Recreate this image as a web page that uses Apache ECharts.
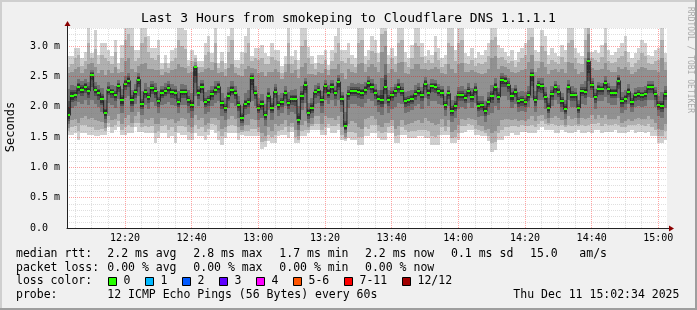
<!DOCTYPE html>
<html><head><meta charset="utf-8">
<script src="https://cdn.jsdelivr.net/npm/echarts@6/dist/echarts.min.js"></script>
<style>html,body{margin:0;padding:0;background:#f0f0f0}#c{width:697px;height:310px}</style>
</head><body><div id="c"></div>
<script>
// ---- time axis (minutes since midnight) ----
const startMinute = 722.6;   // 12:02:36
const endMinute = 902.6;     // 15:02:36
const timeTicks = [740, 760, 780, 800, 820, 840, 860, 880, 900];
const gridMinutes = [725,730,735,740,745,750,755,760,765,770,775,780,785,790,795,800,805,810,815,820,825,830,835,840,845,850,855,860,865,870,875,880,885,890,895,900];
const yMax = 3.3;

// ---- median rtt per minute (ms) ----
const median = [
1.86,2.18,2.19,2.32,2.28,2.33,2.26,2.53,2.27,2.23,
2.13,1.89,2.28,2.24,2.19,2.34,2.11,2.38,2.43,2.11,
2.24,2.45,2.05,2.24,2.16,2.31,2.26,2.09,2.23,2.26,
2.31,2.24,2.23,2.08,2.24,2.24,2.11,2.03,2.66,2.23,
2.33,2.08,2.11,2.21,2.28,2.33,2.06,1.98,2.18,2.28,
2.22,2.03,1.81,2.05,2.08,2.48,2.22,1.98,2.05,1.86,
2.18,1.98,2.25,2.03,2.08,2.22,2.06,2.13,2.13,1.79,
2.18,2.36,1.89,1.98,2.24,2.27,2.11,2.34,2.23,2.33,
2.22,2.41,2.13,1.68,2.21,2.26,2.26,2.25,2.23,2.28,
2.39,2.33,2.23,2.13,2.11,2.33,2.11,2.19,2.26,2.33,
2.26,2.09,2.11,2.13,2.21,2.26,2.19,2.38,2.23,2.34,
2.33,2.26,2.23,2.03,2.22,1.93,2.02,2.19,2.19,2.15,
2.26,2.16,2.28,2.02,2.03,1.93,2.08,2.18,2.32,2.16,
2.44,2.43,2.36,2.18,2.25,2.09,2.11,2.08,2.19,2.52,
2.11,2.36,2.34,2.16,1.98,2.21,2.32,2.25,2.09,1.96,
2.32,2.19,2.19,1.98,2.26,2.25,2.75,2.36,2.16,2.29,
2.29,2.39,2.29,2.23,2.23,2.43,2.09,2.13,2.25,2.08,
2.19,2.21,2.19,2.21,2.32,2.32,2.21,2.03,2.01,2.21];

// ---- smoke: sorted ping pairs per minute (ms), band1 = outermost ----
const band1Hi = [
2.83,2.83,2.97,2.97,2.80,2.91,3.40,2.89,3.27,2.86,
3.05,3.05,2.94,2.83,3.11,2.72,3.02,3.40,3.40,3.40,
2.94,2.94,3.40,3.40,3.16,2.97,2.97,3.11,2.72,2.86,
2.72,2.94,2.97,3.40,3.40,3.27,2.78,2.94,2.86,2.75,
2.75,3.05,3.16,2.89,3.40,2.72,2.91,2.72,3.16,3.40,
2.78,2.78,2.91,3.16,3.40,2.83,2.97,2.97,3.02,2.89,
2.83,3.05,2.94,2.94,2.67,2.83,3.40,2.83,2.94,2.78,
3.40,3.40,2.99,2.83,2.72,2.86,2.86,2.94,2.69,2.94,
3.16,3.40,2.94,2.94,3.05,2.86,2.80,3.40,3.40,2.83,
2.94,3.16,3.11,2.89,3.40,3.40,2.86,2.97,2.83,3.40,
3.40,2.91,2.80,3.02,3.40,3.40,3.05,2.83,2.94,2.86,
3.16,2.97,2.80,2.86,3.40,3.40,2.94,3.40,3.40,2.89,
2.83,2.97,2.80,2.91,2.86,2.94,3.05,3.40,3.40,3.02,
2.97,2.91,2.83,2.94,2.78,2.91,2.97,3.05,3.40,3.40,
2.94,2.91,3.27,3.16,2.86,2.97,2.89,2.83,3.02,2.94,
3.40,3.40,2.97,2.89,2.83,3.40,3.40,2.91,2.94,2.89,
3.02,3.40,2.94,2.86,2.91,2.97,3.05,3.16,2.91,2.80,
2.89,2.97,3.11,3.05,2.86,2.83,2.94,2.97,3.40,2.89];
const band1Lo = [
1.54,1.54,1.57,1.45,1.57,1.57,1.54,1.54,1.51,1.51,
1.54,1.54,1.67,1.57,1.62,1.67,1.54,1.54,1.57,1.57,
1.67,1.59,1.59,1.57,1.57,1.57,1.40,1.48,1.57,1.57,
1.48,1.51,1.40,1.57,1.54,1.54,1.45,1.45,1.57,1.51,
1.51,1.45,1.54,1.62,1.57,1.45,1.37,1.48,1.57,1.57,
1.57,1.45,1.54,1.51,1.51,1.51,1.51,1.51,1.31,1.34,
1.43,1.40,1.40,1.51,1.54,1.54,1.48,1.59,1.40,1.40,
1.51,1.51,1.57,1.62,1.62,1.62,1.54,1.54,1.65,1.57,
1.57,1.62,1.45,1.43,1.48,1.45,1.45,1.37,1.37,1.51,
1.51,1.57,1.57,1.48,1.45,1.45,1.57,1.57,1.40,1.40,
1.54,1.54,1.48,1.48,1.48,1.51,1.51,1.48,1.48,1.37,
1.37,1.37,1.54,1.54,1.54,1.40,1.40,1.45,1.57,1.59,
1.62,1.62,1.54,1.54,1.51,1.51,1.43,1.26,1.29,1.45,
1.45,1.51,1.51,1.57,1.54,1.54,1.59,1.59,1.57,1.57,
1.57,1.62,1.67,1.62,1.62,1.62,1.57,1.57,1.62,1.59,
1.57,1.57,1.59,1.62,1.57,1.57,1.59,1.57,1.62,1.62,
1.57,1.59,1.59,1.59,1.62,1.57,1.57,1.57,1.59,1.62,
1.57,1.59,1.59,1.57,1.59,1.51,1.51,1.40,1.40,1.45];
const band2Hi = [
2.66,2.70,2.80,2.85,2.68,2.75,3.05,2.80,2.95,2.70,
2.85,2.80,2.75,2.70,2.90,2.62,2.80,3.10,3.20,3.00,
2.75,2.80,3.05,3.15,2.90,2.80,2.78,2.85,2.62,2.72,
2.64,2.76,2.80,3.10,3.00,2.95,2.68,2.75,2.80,2.66,
2.66,2.85,2.90,2.74,3.05,2.64,2.76,2.62,2.90,3.10,
2.66,2.64,2.70,2.88,3.05,2.75,2.80,2.78,2.80,2.70,
2.70,2.82,2.78,2.76,2.56,2.70,3.05,2.70,2.78,2.62,
3.00,3.10,2.80,2.70,2.62,2.72,2.70,2.78,2.60,2.76,
2.88,3.05,2.76,2.72,2.80,2.70,2.66,3.05,3.10,2.70,
2.78,2.92,2.88,2.74,3.20,3.25,2.70,2.80,2.70,3.05,
3.10,2.74,2.66,2.80,3.05,3.00,2.82,2.72,2.78,2.72,
2.90,2.78,2.66,2.70,3.05,3.00,2.76,3.05,3.10,2.72,
2.70,2.78,2.68,2.72,2.70,2.74,2.84,3.10,3.15,2.80,
2.82,2.78,2.72,2.76,2.66,2.74,2.80,2.86,3.10,3.15,
2.76,2.76,3.00,2.92,2.70,2.78,2.74,2.70,2.82,2.74,
3.05,3.10,2.80,2.72,2.70,3.10,3.30,2.80,2.78,2.74,
2.82,3.05,2.76,2.72,2.74,2.80,2.84,2.92,2.74,2.66,
2.72,2.78,2.88,2.84,2.72,2.70,2.76,2.78,3.10,2.74];
const band2Lo = [
1.60,1.66,1.68,1.60,1.70,1.70,1.66,1.66,1.62,1.62,
1.64,1.60,1.74,1.66,1.70,1.76,1.62,1.66,1.70,1.66,
1.74,1.74,1.66,1.68,1.66,1.68,1.56,1.60,1.68,1.70,
1.62,1.66,1.58,1.68,1.68,1.66,1.58,1.56,1.70,1.64,
1.66,1.58,1.64,1.72,1.70,1.60,1.52,1.58,1.68,1.70,
1.68,1.56,1.58,1.60,1.60,1.64,1.64,1.58,1.42,1.44,
1.54,1.50,1.54,1.60,1.62,1.66,1.58,1.66,1.50,1.46,
1.60,1.62,1.62,1.68,1.72,1.72,1.62,1.66,1.72,1.68,
1.68,1.72,1.54,1.47,1.58,1.58,1.56,1.50,1.50,1.66,
1.64,1.70,1.70,1.60,1.56,1.58,1.66,1.68,1.52,1.54,
1.66,1.62,1.58,1.60,1.60,1.62,1.62,1.62,1.60,1.52,
1.50,1.54,1.66,1.60,1.66,1.48,1.50,1.56,1.68,1.68,
1.72,1.70,1.64,1.62,1.60,1.56,1.52,1.40,1.42,1.56,
1.62,1.66,1.66,1.68,1.68,1.66,1.70,1.68,1.68,1.70,
1.66,1.72,1.76,1.72,1.70,1.72,1.70,1.68,1.70,1.66,
1.70,1.68,1.70,1.68,1.70,1.68,1.70,1.72,1.72,1.74,
1.68,1.72,1.70,1.70,1.72,1.70,1.66,1.66,1.70,1.70,
1.70,1.72,1.70,1.68,1.72,1.66,1.62,1.52,1.52,1.60];
const band3Hi = [
2.55,2.58,2.62,2.66,2.55,2.62,2.70,2.72,2.66,2.56,
2.60,2.52,2.60,2.56,2.66,2.55,2.58,2.75,2.80,2.62,
2.58,2.68,2.70,2.72,2.62,2.62,2.60,2.60,2.52,2.58,
2.56,2.60,2.62,2.70,2.66,2.64,2.56,2.58,2.74,2.56,
2.58,2.62,2.64,2.60,2.72,2.56,2.58,2.50,2.64,2.70,
2.56,2.52,2.50,2.62,2.68,2.64,2.62,2.56,2.58,2.50,
2.58,2.58,2.62,2.58,2.46,2.58,2.70,2.56,2.60,2.48,
2.66,2.72,2.54,2.54,2.52,2.58,2.56,2.62,2.52,2.62,
2.62,2.70,2.56,2.46,2.62,2.58,2.56,2.70,2.72,2.58,
2.66,2.70,2.66,2.58,2.90,3.00,2.56,2.62,2.58,2.72,
2.74,2.56,2.54,2.62,2.70,2.70,2.62,2.62,2.60,2.62,
2.66,2.62,2.56,2.54,2.70,2.62,2.56,2.70,2.72,2.58,
2.58,2.60,2.58,2.56,2.54,2.56,2.62,2.80,2.84,2.62,
2.68,2.66,2.62,2.58,2.56,2.58,2.60,2.62,2.74,2.86,
2.58,2.64,2.74,2.66,2.54,2.60,2.62,2.58,2.62,2.56,
2.74,2.72,2.62,2.54,2.58,2.80,3.20,2.64,2.60,2.60,
2.62,2.72,2.60,2.58,2.58,2.66,2.62,2.66,2.60,2.54,
2.58,2.62,2.66,2.64,2.60,2.60,2.60,2.58,2.80,2.60];
const band3Lo = [
1.65,1.78,1.80,1.74,1.82,1.84,1.80,1.82,1.78,1.76,
1.75,1.65,1.84,1.78,1.80,1.88,1.72,1.82,1.86,1.74,
1.84,1.92,1.74,1.80,1.78,1.82,1.72,1.72,1.82,1.82,
1.78,1.80,1.74,1.76,1.82,1.80,1.70,1.66,1.86,1.78,
1.82,1.70,1.74,1.82,1.82,1.78,1.64,1.66,1.80,1.84,
1.80,1.66,1.62,1.70,1.70,1.80,1.78,1.66,1.56,1.52,
1.66,1.60,1.72,1.68,1.72,1.78,1.68,1.74,1.62,1.52,
1.70,1.76,1.66,1.72,1.84,1.84,1.72,1.84,1.82,1.82,
1.78,1.84,1.66,1.50,1.72,1.76,1.74,1.66,1.64,1.80,
1.82,1.84,1.80,1.70,1.66,1.74,1.74,1.78,1.64,1.68,
1.78,1.70,1.72,1.74,1.76,1.78,1.74,1.82,1.76,1.74,
1.70,1.72,1.80,1.68,1.78,1.58,1.62,1.70,1.80,1.78,
1.82,1.80,1.78,1.70,1.68,1.62,1.64,1.56,1.60,1.68,
1.78,1.80,1.80,1.78,1.80,1.76,1.78,1.76,1.80,1.84,
1.76,1.84,1.86,1.80,1.74,1.82,1.84,1.82,1.78,1.70,
1.84,1.80,1.82,1.72,1.82,1.80,1.82,1.86,1.80,1.86,
1.82,1.86,1.80,1.80,1.80,1.84,1.74,1.76,1.80,1.76,
1.80,1.82,1.80,1.80,1.84,1.80,1.74,1.64,1.62,1.72];
const band4Hi = [
2.30,2.36,2.35,2.46,2.42,2.46,2.41,2.61,2.41,2.36,
2.31,2.11,2.41,2.36,2.34,2.45,2.29,2.51,2.56,2.28,
2.37,2.55,2.26,2.39,2.32,2.43,2.39,2.26,2.35,2.39,
2.42,2.37,2.35,2.26,2.38,2.36,2.27,2.22,2.69,2.35,
2.44,2.24,2.28,2.35,2.42,2.43,2.22,2.15,2.32,2.42,
2.35,2.18,2.01,2.22,2.27,2.56,2.35,2.15,2.21,2.05,
2.31,2.15,2.38,2.19,2.22,2.35,2.24,2.28,2.29,2.02,
2.34,2.48,2.06,2.14,2.36,2.40,2.26,2.45,2.36,2.44,
2.35,2.52,2.25,1.92,2.35,2.39,2.38,2.39,2.37,2.41,
2.50,2.46,2.37,2.27,2.48,2.70,2.28,2.33,2.38,2.46,
2.40,2.24,2.26,2.28,2.36,2.40,2.33,2.49,2.37,2.46,
2.44,2.38,2.35,2.18,2.35,2.12,2.18,2.33,2.34,2.29,
2.39,2.31,2.40,2.18,2.18,2.10,2.24,2.36,2.48,2.31,
2.55,2.53,2.47,2.31,2.36,2.24,2.26,2.24,2.34,2.62,
2.26,2.47,2.47,2.32,2.14,2.34,2.43,2.36,2.23,2.11,
2.44,2.34,2.31,2.12,2.38,2.42,2.91,2.48,2.29,2.41,
2.40,2.50,2.40,2.35,2.35,2.53,2.24,2.28,2.37,2.22,
2.31,2.33,2.32,2.34,2.43,2.43,2.33,2.18,2.24,2.35];
const band4Lo = [
1.72,1.98,2.01,2.08,2.05,2.11,2.03,2.11,2.05,1.99,
1.92,1.73,2.07,2.03,1.98,2.13,1.90,2.14,2.17,1.91,
2.04,2.18,1.87,2.03,1.96,2.08,2.02,1.90,2.03,2.05,
2.08,2.03,2.01,1.89,2.03,2.03,1.89,1.82,2.18,2.01,
2.10,1.88,1.92,2.02,2.07,2.09,1.84,1.79,1.98,2.07,
2.01,1.82,1.68,1.86,1.88,2.09,2.01,1.79,1.82,1.68,
1.94,1.78,2.02,1.84,1.89,2.01,1.86,1.92,1.88,1.62,
1.94,2.06,1.73,1.82,2.04,2.06,1.90,2.11,2.04,2.11,
2.01,2.11,1.91,1.56,1.98,2.05,2.04,2.02,2.00,2.07,
2.13,2.10,2.01,1.91,1.87,2.05,1.90,1.97,2.00,2.06,
2.05,1.90,1.92,1.94,2.01,2.05,1.97,2.14,2.01,2.09,
2.09,2.04,2.03,1.84,2.01,1.75,1.82,1.97,2.00,1.96,
2.06,1.98,2.07,1.83,1.85,1.75,1.87,1.90,2.02,1.94,
2.18,2.17,2.12,1.98,2.05,1.91,1.93,1.91,2.00,2.15,
1.92,2.12,2.11,1.96,1.82,2.02,2.11,2.05,1.91,1.80,
2.11,2.00,2.00,1.82,2.05,2.03,2.16,2.14,1.96,2.09,
2.09,2.16,2.07,2.03,2.03,2.15,1.90,1.94,2.05,1.91,
2.00,2.02,2.00,2.02,2.11,2.11,1.99,1.84,1.82,1.98];
const band5Hi = [
2.10,2.27,2.27,2.40,2.36,2.40,2.34,2.57,2.34,2.30,
2.21,1.97,2.34,2.30,2.26,2.40,2.19,2.44,2.50,2.19,
2.30,2.51,2.13,2.30,2.23,2.37,2.32,2.16,2.29,2.32,
2.37,2.30,2.29,2.15,2.30,2.30,2.18,2.11,2.68,2.29,
2.39,2.14,2.18,2.28,2.34,2.39,2.12,2.04,2.24,2.34,
2.28,2.10,1.89,2.12,2.15,2.53,2.28,2.05,2.12,1.93,
2.24,2.06,2.32,2.10,2.14,2.28,2.13,2.20,2.20,1.89,
2.26,2.43,1.96,2.06,2.30,2.34,2.18,2.40,2.30,2.39,
2.28,2.47,2.19,1.77,2.28,2.32,2.32,2.32,2.30,2.34,
2.45,2.40,2.30,2.20,2.28,2.53,2.19,2.26,2.32,2.40,
2.32,2.16,2.18,2.20,2.28,2.32,2.26,2.44,2.30,2.40,
2.39,2.32,2.29,2.10,2.28,2.01,2.10,2.26,2.26,2.22,
2.32,2.24,2.34,2.10,2.10,2.01,2.16,2.26,2.40,2.24,
2.50,2.49,2.42,2.24,2.31,2.16,2.18,2.15,2.26,2.57,
2.18,2.42,2.40,2.24,2.06,2.28,2.38,2.31,2.16,2.04,
2.38,2.26,2.25,2.04,2.32,2.32,2.80,2.42,2.22,2.36,
2.35,2.45,2.35,2.29,2.29,2.49,2.16,2.20,2.31,2.14,
2.25,2.27,2.25,2.27,2.38,2.38,2.27,2.10,2.10,2.28];
const band5Lo = [
1.77,2.08,2.10,2.21,2.17,2.23,2.15,2.33,2.17,2.12,
2.03,1.80,2.19,2.15,2.09,2.25,2.01,2.27,2.32,2.01,
2.15,2.32,1.96,2.15,2.07,2.21,2.15,2.00,2.14,2.17,
2.21,2.15,2.13,1.99,2.15,2.15,2.01,1.93,2.40,2.13,
2.23,1.99,2.02,2.12,2.19,2.23,1.96,1.89,2.09,2.19,
2.13,1.93,1.73,1.96,1.99,2.27,2.13,1.89,1.95,1.78,
2.08,1.89,2.15,1.94,1.99,2.13,1.97,2.03,2.02,1.70,
2.07,2.22,1.80,1.90,2.15,2.17,2.01,2.23,2.14,2.23,
2.13,2.27,2.03,1.61,2.11,2.17,2.17,2.15,2.13,2.19,
2.28,2.23,2.13,2.03,2.00,2.21,2.01,2.09,2.16,2.22,
2.17,2.00,2.02,2.04,2.12,2.17,2.09,2.27,2.13,2.24,
2.23,2.17,2.14,1.94,2.13,1.84,1.93,2.09,2.10,2.06,
2.17,2.08,2.19,1.93,1.94,1.84,1.99,2.06,2.20,2.07,
2.33,2.32,2.25,2.08,2.16,2.00,2.02,2.00,2.10,2.34,
2.02,2.25,2.23,2.07,1.90,2.12,2.23,2.16,2.00,1.88,
2.23,2.10,2.10,1.90,2.17,2.15,2.43,2.27,2.07,2.20,
2.20,2.29,2.19,2.14,2.14,2.30,2.00,2.04,2.16,2.00,
2.10,2.12,2.10,2.12,2.23,2.23,2.11,1.94,1.92,2.11];
const band6Hi = [
2.00,2.24,2.24,2.37,2.33,2.37,2.31,2.56,2.31,2.27,
2.18,1.94,2.32,2.28,2.23,2.38,2.16,2.42,2.47,2.16,
2.28,2.49,2.10,2.28,2.20,2.35,2.30,2.13,2.27,2.30,
2.35,2.28,2.27,2.12,2.28,2.28,2.15,2.08,2.67,2.27,
2.37,2.12,2.15,2.25,2.32,2.37,2.10,2.02,2.22,2.32,
2.26,2.07,1.86,2.09,2.12,2.51,2.26,2.02,2.09,1.90,
2.22,2.03,2.30,2.07,2.12,2.26,2.10,2.17,2.17,1.85,
2.23,2.41,1.94,2.03,2.28,2.31,2.15,2.38,2.27,2.37,
2.26,2.45,2.17,1.73,2.25,2.30,2.30,2.29,2.27,2.32,
2.43,2.38,2.28,2.17,2.20,2.45,2.16,2.23,2.30,2.38,
2.30,2.13,2.15,2.17,2.25,2.30,2.23,2.42,2.27,2.38,
2.37,2.30,2.27,2.07,2.26,1.98,2.07,2.23,2.23,2.19,
2.30,2.21,2.32,2.07,2.07,1.98,2.13,2.23,2.37,2.21,
2.48,2.47,2.40,2.22,2.29,2.13,2.15,2.12,2.23,2.55,
2.15,2.40,2.38,2.21,2.03,2.25,2.36,2.29,2.13,2.01,
2.36,2.23,2.23,2.02,2.30,2.29,2.78,2.40,2.20,2.34,
2.33,2.43,2.33,2.27,2.27,2.47,2.13,2.17,2.29,2.12,
2.23,2.25,2.23,2.25,2.36,2.36,2.25,2.07,2.06,2.25];
const band6Lo = [
1.80,2.12,2.14,2.26,2.22,2.28,2.20,2.45,2.22,2.18,
2.07,1.84,2.23,2.19,2.14,2.29,2.05,2.32,2.37,2.05,
2.19,2.38,2.00,2.19,2.11,2.26,2.20,2.04,2.18,2.21,
2.26,2.19,2.18,2.03,2.19,2.19,2.06,1.98,2.50,2.18,
2.28,2.03,2.06,2.16,2.23,2.28,2.01,1.93,2.13,2.23,
2.17,1.98,1.76,2.00,2.03,2.36,2.17,1.93,2.00,1.81,
2.13,1.93,2.20,1.98,2.03,2.17,2.01,2.08,2.08,1.74,
2.12,2.28,1.84,1.93,2.19,2.22,2.06,2.28,2.18,2.27,
2.17,2.33,2.08,1.63,2.16,2.21,2.21,2.20,2.18,2.23,
2.33,2.28,2.18,2.08,2.05,2.27,2.06,2.14,2.21,2.28,
2.21,2.04,2.06,2.08,2.16,2.21,2.14,2.32,2.18,2.29,
2.28,2.21,2.18,1.98,2.17,1.88,1.97,2.14,2.14,2.10,
2.21,2.12,2.23,1.97,1.98,1.88,2.03,2.12,2.26,2.11,
2.38,2.37,2.30,2.12,2.20,2.04,2.06,2.03,2.14,2.42,
2.06,2.30,2.28,2.11,1.93,2.16,2.27,2.20,2.04,1.91,
2.27,2.14,2.14,1.93,2.21,2.20,2.55,2.31,2.11,2.24,
2.24,2.34,2.24,2.18,2.18,2.36,2.04,2.08,2.20,2.03,
2.14,2.16,2.14,2.16,2.27,2.27,2.16,1.98,1.96,2.16];

// ---- legend texts ----
const rttStats = ['2.2 ms avg', '2.8 ms max', '1.7 ms min', '2.2 ms now', '0.1 ms sd', '15.0', 'am/s'];
const lossStats = ['0.00 % avg', '0.00 % max', '0.00 % min', '0.00 % now'];
const lossLabels = ['0', '1', '2', '3', '4', '5-6', '7-11', '12/12'];
const lossColors = ['#26ff00', '#00b8ff', '#0059ff', '#5e00ff', '#ff00ff', '#ff5500', '#ff0000', '#a10000'];
const probeText = '12 ICMP Echo Pings (56 Bytes) every 60s';
const stampText = 'Thu Dec 11 15:02:34 2025';
const titleText = 'Last 3 Hours from smokeping to Cloudflare DNS 1.1.1.1';

// ---- rendering ----
const MONO = '"DejaVu Sans Mono", monospace';
const bandLo = [band1Lo, band2Lo, band3Lo, band4Lo, band5Lo, band6Lo];
const bandHi = [band1Hi, band2Hi, band3Hi, band4Hi, band5Hi, band6Hi];
const bandColors = ['#d0d0d0', '#b0b0b0', '#919191', '#717171', '#515151', '#323232'];
const majorGrid = 'rgba(255,0,0,0.36)';
const minorGrid = 'rgba(120,120,120,0.24)';

function hhmm(m) {
  const h = Math.floor(m / 60), mm = Math.round(m - h * 60);
  return String(h).padStart(2, '0') + ':' + String(mm).padStart(2, '0');
}

const pts = median.map((v, k) => [startMinute + k, v]);
const stepPts = pts.concat([[endMinute, median[median.length - 1]]]);

function smokeItem(params, api) {
  const k = params.dataIndex;
  const x0 = startMinute + k, x1 = Math.min(x0 + 1, endMinute);
  const children = [];
  for (let b = 0; b < 6; b++) {
    const lo = Math.max(0, bandLo[b][k]);
    const hi = Math.min(yMax, bandHi[b][k]);
    const a = api.coord([x0, lo]);
    const c = api.coord([x1, hi]);
    const L = Math.round(a[0]), R = Math.round(c[0]);
    const T = Math.round(c[1]), B = Math.round(a[1]);
    children.push({ type: 'rect', shape: { x: L, y: T, width: R - L, height: B - T }, style: { fill: bandColors[b] } });
  }
  return { type: 'group', children };
}

function markerItem(params, api) {
  const k = params.dataIndex;
  const x0 = startMinute + k, x1 = Math.min(x0 + 1, endMinute);
  const a = api.coord([x0, median[k]]);
  const c = api.coord([x1, median[k]]);
  const L = Math.round(a[0]), R = Math.round(c[0]);
  const y = Math.round(a[1]);
  return { type: 'rect', shape: { x: L, y: y - 1, width: R - L, height: 2 }, style: { fill: '#26ff00' } };
}

const chart = echarts.init(document.getElementById('c'), null, { renderer: 'canvas', width: 697, height: 310 });

chart.setOption({
  animation: false,
  backgroundColor: '#f0f0f0',
  grid: { left: 67, right: 30, top: 28, bottom: 82, show: true, backgroundColor: '#ffffff', borderWidth: 0, outerBoundsMode: 'none', containLabel: false },
  xAxis: {
    type: 'value', min: startMinute, max: endMinute, z: 5,
    axisLine: { show: true, onZero: false, lineStyle: { color: '#222', width: 1 } },
    axisTick: { show: false }, splitLine: { show: false },
    axisLabel: { customValues: timeTicks, formatter: hhmm, fontFamily: MONO, fontSize: 10, color: '#000', margin: 5 }
  },
  yAxis: {
    type: 'value', min: 0, max: yMax, interval: 0.1, z: 5,
    axisLine: { show: true, onZero: false, lineStyle: { color: '#222', width: 1 } },
    axisTick: { show: false },
    splitLine: { show: true, lineStyle: { color: [majorGrid, minorGrid, minorGrid, minorGrid, minorGrid], type: [1, 1], width: 1 } },
    axisLabel: {
      fontFamily: MONO, fontSize: 10, color: '#000', margin: 7,
      formatter: function (v) {
        const r = Math.round(v * 2);
        if (Math.abs(v * 2 - r) > 1e-6 || v > 3.01) return '';
        return r === 0 ? '0.0  ' : (r / 2).toFixed(1) + ' m';
      }
    }
  },
  series: [
    { type: 'custom', name: 'smoke', data: pts, renderItem: smokeItem, z: 1, silent: true },
    { type: 'line', name: 'median', data: stepPts, step: 'end', showSymbol: false, symbol: 'none', z: 2, silent: true,
      lineStyle: { color: '#202020', width: 1 } },
    { type: 'custom', name: 'loss0', data: pts, renderItem: markerItem, z: 3, silent: true },
    { type: 'line', name: 'vgrid', data: [[startMinute, 0]], showSymbol: false, symbol: 'none', z: 4, silent: true,
      lineStyle: { opacity: 0 },
      markLine: {
        silent: true, symbol: ['none', 'none'], animation: false, label: { show: false },
        emphasis: { disabled: true },
        data: gridMinutes.map(m => ({ xAxis: m, lineStyle: { color: timeTicks.indexOf(m) >= 0 ? majorGrid : minorGrid, type: [1, 1], width: 1 } }))
      }
    }
  ]
});

// ---- decorations: arrows, texts, frame ----
const origin = chart.convertToPixel({ gridIndex: 0 }, [startMinute, 0]);
const xEnd = chart.convertToPixel({ gridIndex: 0 }, [endMinute, 0]);
const yTop = chart.convertToPixel({ gridIndex: 0 }, [startMinute, yMax]);
const ox = Math.round(origin[0]) + 0.5, oy = Math.round(origin[1]) + 0.5;
const ex = Math.round(xEnd[0]), ty = Math.round(yTop[1]);

const g = [];
function txt(text, x, y, size, opts) {
  g.push(Object.assign({ type: 'text', x: x, y: y, z: 100, style: Object.assign({ text: text, fontFamily: MONO, fontSize: size, fill: '#000', align: 'left', verticalAlign: 'middle' }, (opts && opts.style) || {}) }, (opts && opts.el) || {}));
}
// frame
g.push({ type: 'rect', shape: { x: 0, y: 0, width: 697, height: 2 }, style: { fill: '#cfcfcf' }, z: 100 });
g.push({ type: 'rect', shape: { x: 0, y: 0, width: 2, height: 310 }, style: { fill: '#cfcfcf' }, z: 100 });
g.push({ type: 'rect', shape: { x: 0, y: 308, width: 697, height: 2 }, style: { fill: '#9e9e9e' }, z: 100 });
g.push({ type: 'rect', shape: { x: 695, y: 0, width: 2, height: 310 }, style: { fill: '#9e9e9e' }, z: 100 });
// axis extensions and arrows
g.push({ type: 'line', shape: { x1: ox, y1: ty, x2: ox, y2: ty - 3 }, style: { stroke: '#222', lineWidth: 1 }, z: 100 });
g.push({ type: 'polygon', shape: { points: [[ox - 3, ty - 2], [ox + 3, ty - 2], [ox, ty - 7]] }, style: { fill: '#8b0000' }, z: 100 });
g.push({ type: 'line', shape: { x1: ex, y1: oy, x2: ex + 3, y2: oy }, style: { stroke: '#222', lineWidth: 1 }, z: 100 });
g.push({ type: 'polygon', shape: { points: [[ex + 2, oy - 3], [ex + 2, oy + 3], [ex + 7, oy]] }, style: { fill: '#8b0000' }, z: 100 });

// title / axis name / watermark
txt(titleText, 348.5, 19, 13, { style: { align: 'center' } });
txt('Seconds', 11, 127, 12, { style: { align: 'center' }, el: { rotation: Math.PI / 2 } });
txt('RRDTOOL / TOBI OETIKER', 690, 60, 8, { style: { align: 'center', fill: '#aaaaaa' }, el: { rotation: -Math.PI / 2 } });

// legend
const LF = 11.5;
const row = [254.5, 268, 281.5, 295.5];
const colX = [107.3, 193.3, 279.3, 365, 451, 530, 579.3];
txt('median rtt:', 16, row[0], LF);
rttStats.forEach((s, i) => txt(s, colX[i], row[0], LF));
txt('packet loss:', 16, row[1], LF);
lossStats.forEach((s, i) => txt(s, colX[i], row[1], LF));
txt('loss color:', 16, row[2], LF);
const boxX = [108.5, 145.5, 182.5, 219.5, 256.5, 293.5, 344.5, 402.5];
lossLabels.forEach((s, i) => {
  g.push({ type: 'rect', shape: { x: boxX[i], y: row[2] - 4, width: 8, height: 8 }, style: { fill: lossColors[i], stroke: '#000', lineWidth: 1 }, z: 100 });
  txt(s, boxX[i] + 15, row[2], LF);
});
txt('probe:', 16, row[3], LF);
txt(probeText, 107.3, row[3], LF);
txt(stampText, 513.3, row[3], LF);

chart.setOption({ graphic: g });
</script>
</body></html>
